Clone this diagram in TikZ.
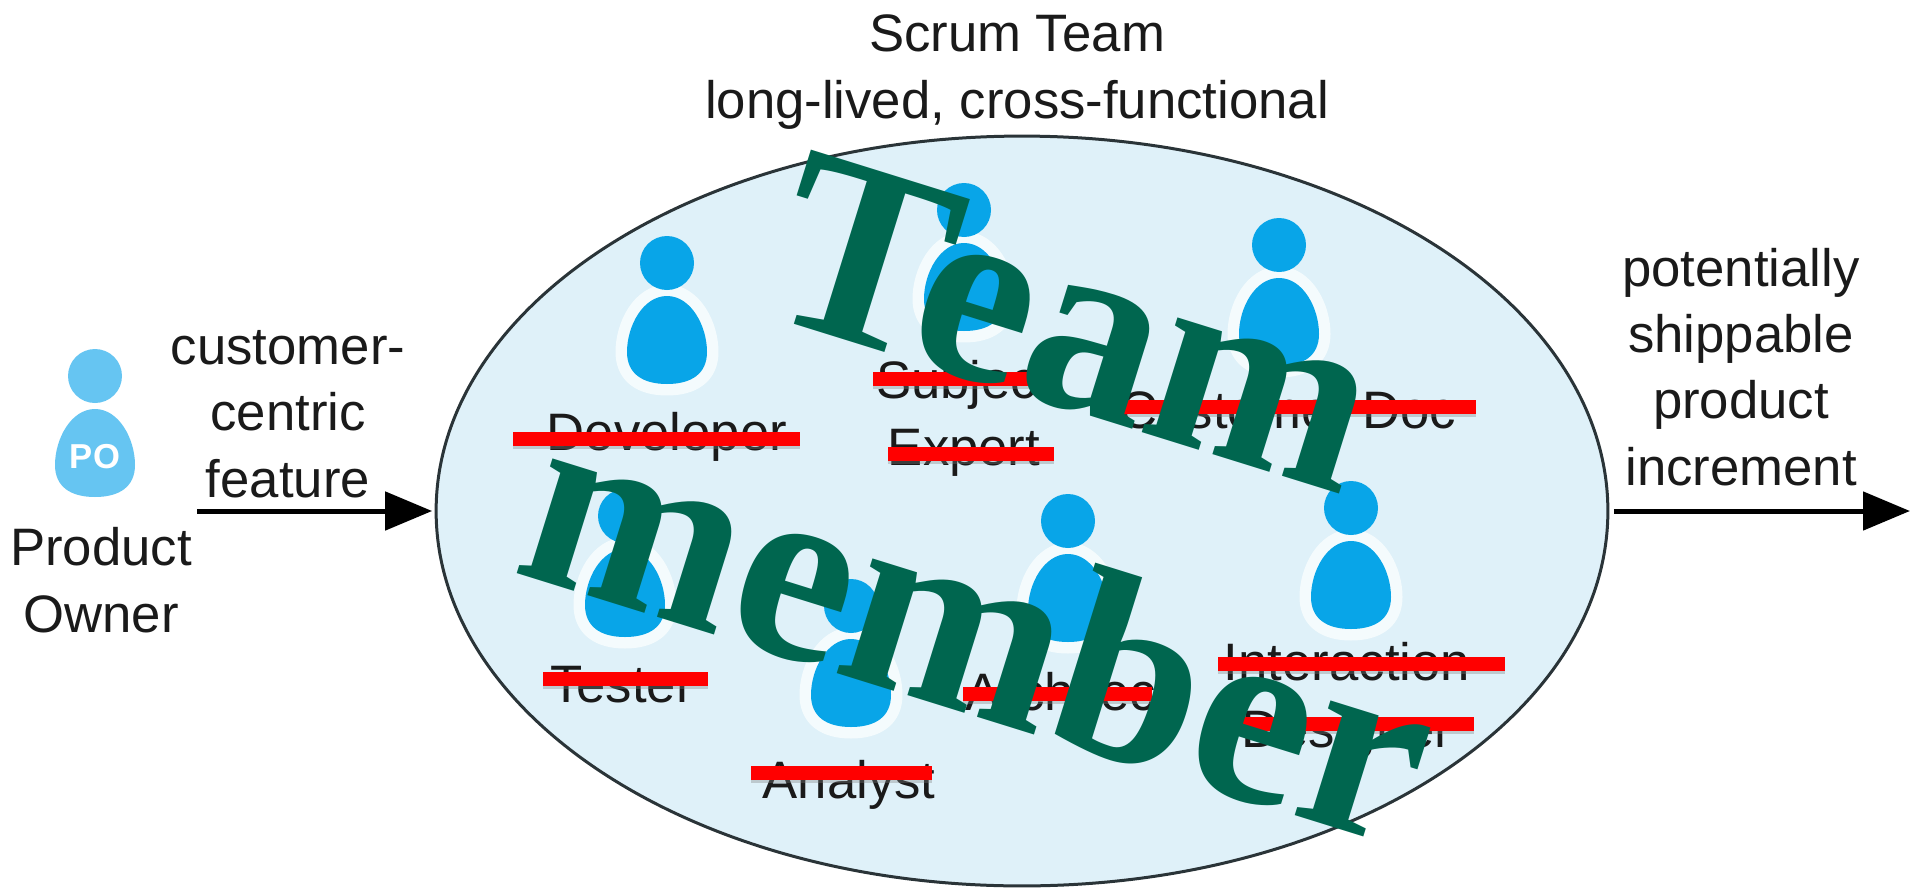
\documentclass[tikz,border=0pt]{standalone}
\usepackage{fontspec}
\setmainfont{Liberation Sans}
\newfontfamily\bannerfont{Liberation Serif}
\usetikzlibrary{arrows.meta, shapes.geometric, shadows}

\definecolor{teamfill}{HTML}{DFF1F9}
\definecolor{teamline}{HTML}{2A3438}
\definecolor{personblue}{HTML}{08A5E8}
\definecolor{ownerblue}{HTML}{66C5F2}
\definecolor{halowhite}{HTML}{F4FBFD}
\definecolor{bannergreen}{HTML}{00664F}
\definecolor{labelgray}{HTML}{1A1A1A}

\tikzset{
	pics/person/.style 2 args = {code = {
		\draw [#2, line width = 0.46cm, line join = round] (0, -44) .. controls (24, -44) and (40, -14) .. (40, 12) .. controls (40, 34) and (24, 44) .. (0, 44) .. controls (-24, 44) and (-40, 34) .. (-40, 12) .. controls (-40, -14) and (-24, -44) .. (0, -44) -- cycle;
		\fill [#1] (0, -77) circle (27);
		\fill [#1] (0, -44) .. controls (24, -44) and (40, -14) .. (40, 12) .. controls (40, 34) and (24, 44) .. (0, 44) .. controls (-24, 44) and (-40, 34) .. (-40, 12) .. controls (-40, -14) and (-24, -44) .. (0, -44) -- cycle;
	}},
	label/.style = {anchor = base, align = center, text = labelgray, inner sep = 0, font = \fontsize{30}{37.6}\selectfont},
	strike/.style = {fill = red, drop shadow = {shadow xshift = 0pt, shadow yshift = -1.5pt, opacity = 0.35}},
	flow/.style = {line width = 0.1cm, ->},
	banner/.style = {anchor = base, rotate = -17.3, inner sep = 0, text = bannergreen, font = \bannerfont\bfseries\fontsize{149}{149}\selectfont}
}

\begin{document}
\begin{tikzpicture}[x = 0.02cm, y = -0.02cm, > = {Triangle[length = 0.94cm, width = 0.76cm]}]

	\useasboundingbox (0, 0) rectangle (1917, 889);

	% Team ellipse

	\node (team) [ellipse, draw = teamline, fill = teamfill, line width = 0.06cm, inner sep = 0, outer sep = 0, minimum width = 23.44cm, minimum height = 15cm] at (1022, 511) {};

	% Members

	\foreach \X/\Y in {667/340, 964/287, 1279/322, 625/593, 851/683, 1068/598, 1351/585}
	{
		\pic at (\X, \Y) {person = {personblue}{halowhite}};
	}

	\node (developer) [label] at (667, 450) {Developer};
	\node (subject) [label] at (964, 465) {Subject\\Expert};
	\node (customerdoc) [label] at (1288, 428) {Customer Doc};
	\node (tester) [label] at (622, 702) {Tester};
	\node (analyst) [label] at (849, 798) {Analyst};
	\node (architect) [label] at (1068, 710) {Architect};
	\node (interaction) [label] at (1347, 747) {Interaction\\Designer};

	% Strike-through bars

	\foreach \A/\B/\Y in {513/800/439, 873/1040/379, 888/1054/454, 1119/1476/407, 543/708/679, 751/932/773, 963/1152/694, 1218/1505/664, 1243/1474/724}
	{
		\path [strike] (\A, \Y - 7) rectangle (\B, \Y + 7);
	}

	% Product owner

	\pic at (95, 453) {person = {ownerblue}{white}};
	\node (po) [anchor = base, inner sep = 0, text = white, font = \bfseries\fontsize{19.7}{20}\selectfont] at (95, 468) {PO};
	\node (owner) [label] at (101, 632) {Product\\Owner};

	% Input and output

	\node (feature) [label] at (288, 497) {customer-\\centric\\feature};
	\node (increment) [label] at (1741, 485) {potentially\\shippable\\product\\increment};
	\node (scrum) [label] at (1017, 118) {Scrum Team\\long-lived, cross-functional};

	\coordinate (featurein) at (197, 511);
	\coordinate (incrementout) at (1910, 511);
	\draw [flow, shorten > = 0.08cm] (featurein) -- (team.west);
	\draw [flow, shorten < = 0.12cm] (team.east) -- (incrementout);

	% Overlaid title

	\node (bannertop) [banner] at (1050, 404) {Team};
	\node (bannerbottom) [banner] at (955, 710) {member};

\end{tikzpicture}
\end{document}
